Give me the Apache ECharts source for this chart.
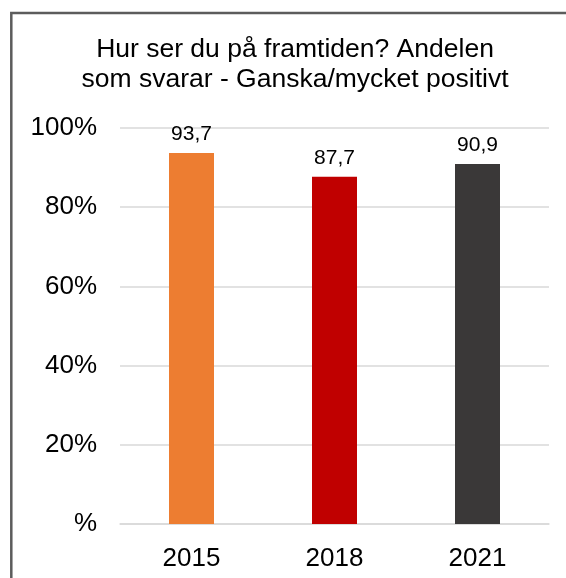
<!DOCTYPE html>
<html>
<head>
<meta charset="utf-8">
<script src="https://cdn.jsdelivr.net/npm/echarts@6/dist/echarts.min.js"></script>
<style>
html,body{margin:0;padding:0;background:#fff;}
#chart{width:566px;height:578px;}
</style>
</head>
<body>
<div id="chart"></div>
<script>
const titleLines = ['Hur ser du på framtiden? Andelen', 'som svarar - Ganska/mycket positivt'];
const categories = ['2015', '2018', '2021'];
const values = [93.7, 87.7, 90.9];
const barColors = ['#ED7D31', '#C00000', '#3A3838'];
const yMin = 0, yMax = 100, yStep = 20;

const FONT = '"Liberation Sans", Arial, sans-serif';
const chart = echarts.init(document.getElementById('chart'), null, {renderer: 'canvas'});
chart.setOption({
  animation: false,
  backgroundColor: '#ffffff',
  graphic: [
    {
      type: 'rect',
      shape: {x: 11.3, y: 13, width: 620, height: 620},
      style: {fill: 'none', stroke: '#5c5c5c', lineWidth: 2.5},
      silent: true
    },
    {
      type: 'text',
      x: 295,
      y: 35,
      style: {
        text: titleLines.join('\n'),
        align: 'center',
        verticalAlign: 'top',
        fontFamily: FONT,
        fontSize: 26.5,
        lineHeight: 30,
        fill: '#000000'
      }
    }
  ],
  grid: {left: 120, right: 17, top: 128, bottom: 54},
  xAxis: {
    type: 'category',
    data: categories,
    axisLine: {show: true, lineStyle: {color: '#d9d9d9', width: 1.5}},
    axisTick: {show: false},
    axisLabel: {color: '#000', fontFamily: FONT, fontSize: 26, margin: 22}
  },
  yAxis: {
    type: 'value',
    min: yMin, max: yMax, interval: yStep,
    axisLine: {show: false},
    axisTick: {show: false},
    splitLine: {lineStyle: {color: '#d9d9d9', width: 1.5}},
    axisLabel: {
      color: '#000', fontFamily: FONT, fontSize: 26, margin: 23,
      formatter: v => (v === 0 ? '%' : v + '%')
    }
  },
  series: [{
    type: 'bar',
    data: values.map((v, i) => ({value: v, itemStyle: {color: barColors[i]}})),
    barWidth: 45,
    label: {
      show: true,
      position: 'top',
      distance: 8,
      color: '#000',
      fontFamily: FONT,
      fontSize: 21,
      formatter: p => p.value.toFixed(1).replace('.', ',')
    }
  }]
});
</script>
</body>
</html>
